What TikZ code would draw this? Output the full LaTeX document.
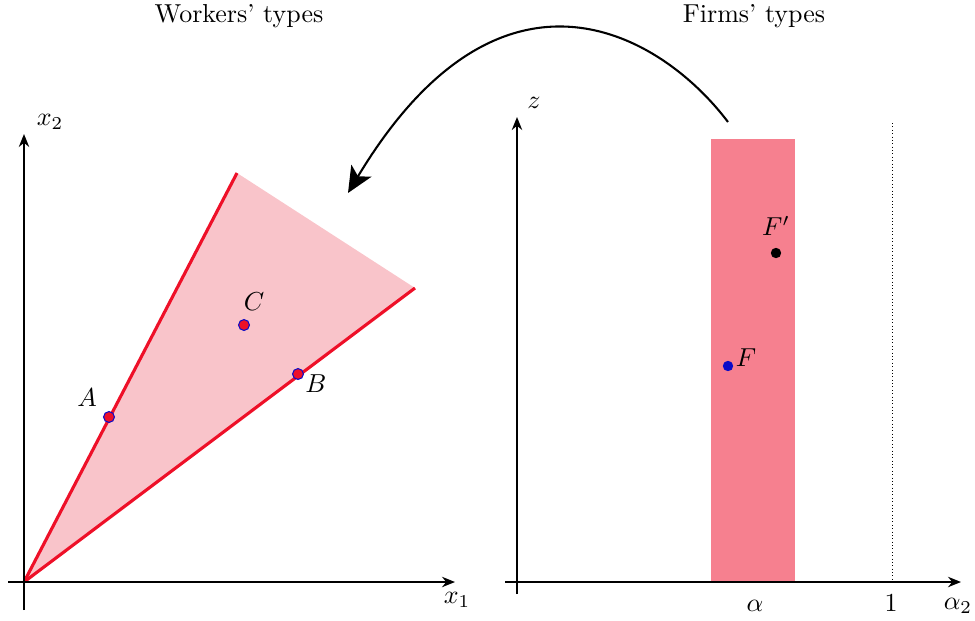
\documentclass[tikz,border=0pt]{standalone}
\usetikzlibrary{arrows.meta}
\definecolor{lightpink}{RGB}{249,196,202}
\definecolor{redline}{RGB}{238,16,40}
\definecolor{bandpink}{RGB}{246,128,143}
\definecolor{dotblue}{RGB}{10,10,200}
\tikzset{
  axis/.style={line width=0.75pt,-{Stealth[length=5pt,width=4pt]}},
  edge/.style={line width=1.2pt,redline},
  wpt/.style={circle,fill=redline,draw=dotblue,line width=0.4pt,inner sep=0pt,minimum size=4.2pt},
  lbl/.style={inner sep=1pt},
}
\begin{document}
\begin{tikzpicture}[x=0.385pt,y=-0.385pt]
\useasboundingbox (0,0) rectangle (975,621);
% titles
\node[lbl] (tw) at (239,16) {Workers' types};
\node[lbl] (tf) at (754,16) {Firms' types};
% left panel
\coordinate (O) at (24,582);
\coordinate (T) at (237,173);
\coordinate (R) at (415,288);
\fill[lightpink] (O) -- (T) -- (R) -- cycle;
\draw[edge] (O) -- (T);
\draw[edge] (O) -- (R);
\coordinate (xs) at (8,582);
\coordinate (xe) at (455,582);
\coordinate (ys) at (24,610);
\coordinate (ye) at (24,134);
\draw[axis] (xs) -- (xe);
\draw[axis] (ys) -- (ye);
\node[lbl] (x1) at (457,600) {$x_1$};
\node[lbl] (x2) at (50,122) {$x_2$};
\node[wpt] (A) at (109,417) {};
\node[wpt] (B) at (298,374) {};
\node[wpt] (C) at (244,325) {};
\node[lbl] (Al) at (87,398) {$A$};
\node[lbl] (Bl) at (316,384) {$B$};
\node[lbl] (Cl) at (254,302) {$C$};
% right panel
\fill[bandpink] (711,139) rectangle (795,582);
\coordinate (dt) at (892,123);
\coordinate (db) at (892,582);
\draw[densely dotted,line width=0.3pt] (dt) -- (db);
\coordinate (us) at (505,582);
\coordinate (ue) at (961,582);
\coordinate (vs) at (517,594);
\coordinate (ve) at (517,117);
\draw[axis] (us) -- (ue);
\draw[axis] (vs) -- (ve);
\node[lbl] (z) at (534,103) {$z$};
\node[lbl] (a2) at (958,606) {$\alpha_2$};
\node[lbl] (al) at (755,606) {$\alpha$};
\node[lbl] (one) at (891,603) {$1$};
\node[circle,fill=dotblue,inner sep=0pt,minimum size=4pt] (F) at (728,366) {};
\node[circle,fill=black,inner sep=0pt,minimum size=4pt] (Fp) at (776,253) {};
\node[lbl] (Fl) at (746,358) {$F$};
\node[lbl] (Fpl) at (776,226) {$F'$};
% curved arrow
\coordinate (cs) at (728,122);
\coordinate (ce) at (348,193);
\draw[line width=0.8pt,-{Stealth[length=10pt,width=9pt,inset=2.5pt]}] (cs) .. controls (660,32) and (500,-60) .. (ce);
\end{tikzpicture}
\end{document}
